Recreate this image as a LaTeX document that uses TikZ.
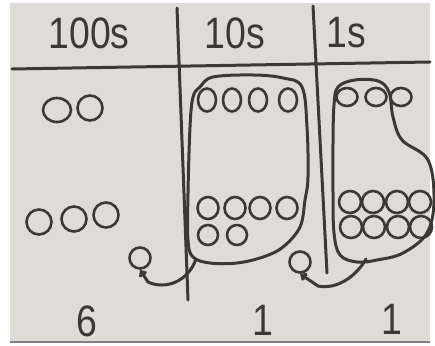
\documentclass[tikz,border=0pt]{standalone}
\usepackage{fontspec}
\setmainfont{Liberation Sans}
\usepackage{xcolor}
\usetikzlibrary{arrows.meta, calc, positioning}
\definecolor{board}{HTML}{DFDCD7}
\definecolor{marker}{HTML}{3A3935}

\begin{document}
\begin{tikzpicture}[x=1pt,y=-1pt,
  pen/.style={line width=3pt, draw=marker, line cap=round, line join=round},
  bead/.style={line width=2.6pt, draw=marker},
  digit/.style={text=marker, inner sep=0pt, xscale=0.85, font=\fontsize{44}{46}\selectfont},
  carry/.style={circle, line width=2.6pt, draw=marker, minimum size=21pt, inner sep=0pt}]

  % Board
  \useasboundingbox (0,0) rectangle (435,345);
  \fill[white] (0,0) rectangle (435,345);
  \fill[board] (10,3) rectangle (430,342);
  \draw[gray, line width=1.5pt] (10,342) -- (430,342);

  % Place value grid
  \coordinate (HL) at (12,69);
  \coordinate (HR) at (430,62);
  \coordinate (VA) at (177,8);
  \coordinate (VAb) at (188,300);
  \coordinate (VB) at (313,6);
  \coordinate (VBb) at (327,273);
  \draw[pen] (HL) -- (HR);
  \draw[pen] (VA) -- (VAb);
  \draw[pen] (VB) -- (VBb);

  % Column headings
  \node[digit] (h100) at (89,33) {100s};
  \node[digit] (h10) at (235,33) {10s};
  \node[digit] (h1) at (346,33) {1s};

  % Hundreds
  \draw[bead] (57,110) ellipse [x radius=14, y radius=12];
  \draw[bead] (90,108) ellipse [x radius=12.5, y radius=12.5];
  \foreach \x/\y in {39/222, 74/219, 106/215}
    \draw[bead] (\x,\y) ellipse [x radius=12.5, y radius=12.5];

  % Tens
  \foreach \x in {207,232,258,288}
    \draw[bead] (\x,100) ellipse [x radius=9, y radius=11.5];
  \foreach \x in {208,235,260,287}
    \draw[bead] (\x,208) ellipse [x radius=10.5, y radius=11];
  \foreach \x in {208,237}
    \draw[bead] (\x,235) ellipse [x radius=10, y radius=10];

  % Ones
  \foreach \x in {347,376,401}
    \draw[bead] (\x,97) ellipse [x radius=10.5, y radius=9];
  \foreach \x in {350,373,397,420} {
    \draw[bead] (\x,202) ellipse [x radius=11, y radius=11];
    \draw[bead] (\x+1,227) ellipse [x radius=11, y radius=11];
  }

  % Groups of ten
  \draw[pen] plot[smooth cycle, tension=0.6] coordinates {
    (200,87) (213,77) (253,75) (283,78) (302,87) (307,127) (308,177)
    (305,200) (300,227) (283,247) (263,257) (237,263) (210,263)
    (193,257) (188,240) (188,193) (190,127) (193,97)};
  \draw[pen] plot[smooth cycle, tension=0.6] coordinates {
    (338,87) (355,80) (378,81) (389,92) (393,117) (402,140) (428,160)
    (434,200) (427,233) (403,253) (377,260) (357,262) (340,255)
    (334,233) (333,193) (333,143) (334,105)};

  % Carried tens and ones
  \node[carry] (carryA) at (140,258) {};
  \node[carry] (carryB) at (300,262) {};
  \coordinate (tailA) at (196,259);
  \coordinate (tailB) at (366,259);
  \draw[pen, -{Straight Barb[length=4pt, width=7pt]}] (tailA)
    .. controls (188,282) and (165,290) .. (148,282) -- (carryA.south);
  \draw[pen, -{Straight Barb[length=4pt, width=7pt]}] (tailB)
    .. controls (357,275) and (338,290) .. (318,286) -- (carryB.south);

  % Totals
  \node[digit] (n100) at (87,321) {6};
  \node[digit] (n10) at (263,320) {1};
  \node[digit] (n1) at (392,319) {1};
\end{tikzpicture}
\end{document}
